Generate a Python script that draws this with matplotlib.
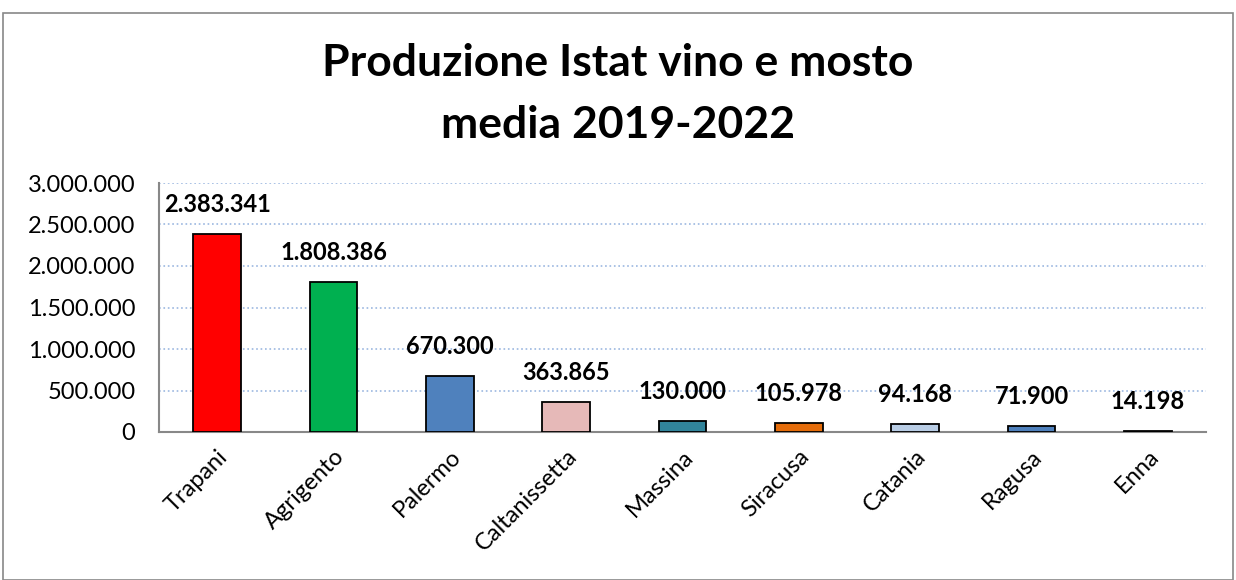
import matplotlib.pyplot as plt
from matplotlib.patches import Rectangle

# Dati produzione (media 2019-2022)
province = ['Trapani', 'Agrigento', 'Palermo', 'Caltanissetta', 'Massina',
            'Siracusa', 'Catania', 'Ragusa', 'Enna']
valori = [2383341, 1808386, 670300, 363865, 130000, 105978, 94168, 71900, 14198]
colori = ['#FF0000', '#00B050', '#4F81BD', '#E6B9B8', '#31849B',
          '#E46C0A', '#B9CDE5', '#4F81BD', '#1F497D']
yticks = [0, 500000, 1000000, 1500000, 2000000, 2500000, 3000000]


def fmt(v):
    return f"{v:,}".replace(',', '.')


plt.rcParams['font.family'] = ['Lato', 'DejaVu Sans']

fig = plt.figure(figsize=(12.36, 5.8), dpi=100)
fig.patches.append(Rectangle((3 / 1236, 0), 1230 / 1236, 567 / 580,
                             transform=fig.transFigure, fill=False,
                             edgecolor='#888888', linewidth=1.2))

ax = fig.add_axes([159 / 1236, 148 / 580, 1047 / 1236, 249 / 580])
x = list(range(len(province)))
ax.bar(x, valori, width=0.41, color=colori, edgecolor='black', linewidth=1.3, zorder=3)

for xi, v in zip(x, valori):
    ax.annotate(fmt(v), (xi, v), xytext=(0, 13), textcoords='offset points',
                ha='center', va='bottom', fontsize=17, fontweight='bold')

ax.set_xlim(-0.5, len(province) - 0.5)
ax.set_ylim(0, 3000000)
ax.set_yticks(yticks)
ax.set_yticklabels([fmt(t) for t in yticks], fontsize=17)
ax.set_xticks(x)
ax.set_xticklabels(province, rotation=45, ha='right', rotation_mode='anchor', fontsize=17)
ax.tick_params(axis='y', length=0, pad=17)
ax.tick_params(axis='x', length=0, pad=10)

ax.grid(axis='y', color='#9BB7E0', linestyle=':', linewidth=1.2, zorder=0)
for s in ['top', 'right']:
    ax.spines[s].set_visible(False)
for s in ['left', 'bottom']:
    ax.spines[s].set_color('#888888')
    ax.spines[s].set_linewidth(1.5)

fig.text(0.5, 1 - 63 / 580, 'Produzione Istat vino e mosto', ha='center', va='center',
         fontsize=32, fontweight='bold')
fig.text(0.5, 1 - 125 / 580, 'media 2019-2022', ha='center', va='center',
         fontsize=32, fontweight='bold')

fig.savefig('out.png', dpi=100)
